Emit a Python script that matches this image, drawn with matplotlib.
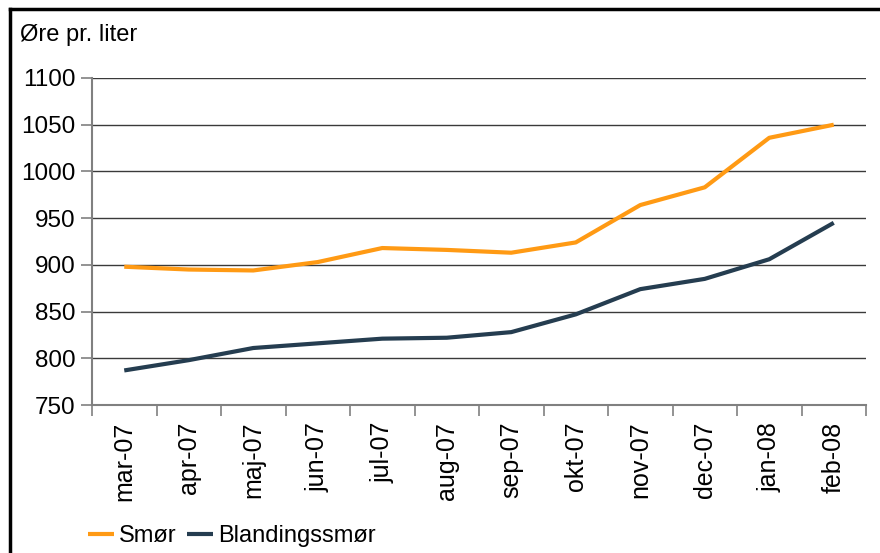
import matplotlib
matplotlib.use("Agg")
import matplotlib.pyplot as plt
from matplotlib.lines import Line2D

plt.rcParams['font.family'] = ['Liberation Sans', 'DejaVu Sans']

months = ["mar-07", "apr-07", "maj-07", "jun-07", "jul-07", "aug-07",
          "sep-07", "okt-07", "nov-07", "dec-07", "jan-08", "feb-08"]
smor = [898, 895, 894, 903, 918, 916, 913, 924, 964, 983, 1036, 1050]
blandingssmor = [787, 798, 811, 816, 821, 822, 828, 847, 874, 885, 906, 945]
yticks = [750, 800, 850, 900, 950, 1000, 1050, 1100]

W, H = 880, 553
fig = plt.figure(figsize=(W / 100, H / 100), dpi=100)
ax = fig.add_axes([92 / W, 1 - 405 / H, (866 - 92) / W, (405 - 78) / H])

x = list(range(len(months)))
ax.plot(x, smor, color='#FF9A14', lw=3, label='Smør', solid_capstyle='butt')
ax.plot(x, blandingssmor, color='#253D50', lw=3, label='Blandingssmør', solid_capstyle='butt')

ax.set_xlim(-0.5, len(months) - 0.5)
ax.set_ylim(750, 1100)
ax.set_yticks(yticks)
ax.set_yticklabels([str(v) for v in yticks], fontsize=17.5)
ax.set_xticks([i - 0.5 for i in range(len(months) + 1)])
ax.set_xticklabels([])
ax.set_xticks(x, minor=True)
ax.set_xticklabels(months, minor=True, rotation=90, fontsize=18)
ax.tick_params(axis='x', which='minor', length=0, pad=12)
ax.tick_params(axis='x', which='major', length=8, color='#808080', width=1.2)
ax.tick_params(axis='y', length=8, color='#808080', width=1.2, pad=4)

ax.grid(axis='y', color='#3a3a3a', lw=1)
ax.set_axisbelow(True)
for s in ['top', 'right']:
    ax.spines[s].set_visible(False)
for s in ['left', 'bottom']:
    ax.spines[s].set_color('#808080')
    ax.spines[s].set_linewidth(1.5)

fig.text(20 / W, 1 - 35 / H, "Øre pr. liter", fontsize=17, va='center', ha='left')

leg = fig.legend(loc='center left', bbox_to_anchor=(88 / W, 1 - 536 / H), ncol=2,
                 frameon=False, fontsize=17, handlelength=1.1, handletextpad=0.2,
                 columnspacing=0.45, borderaxespad=0, borderpad=0)

# outer frame (left and top)
fig.add_artist(Line2D([9.5 / W, 9.5 / W], [0, 1 - 9 / H], color='black', lw=2.5,
                      transform=fig.transFigure))
fig.add_artist(Line2D([9.5 / W, 1], [1 - 9 / H, 1 - 9 / H], color='black', lw=2.5,
                      transform=fig.transFigure))

fig.savefig("out.png", dpi=100)
